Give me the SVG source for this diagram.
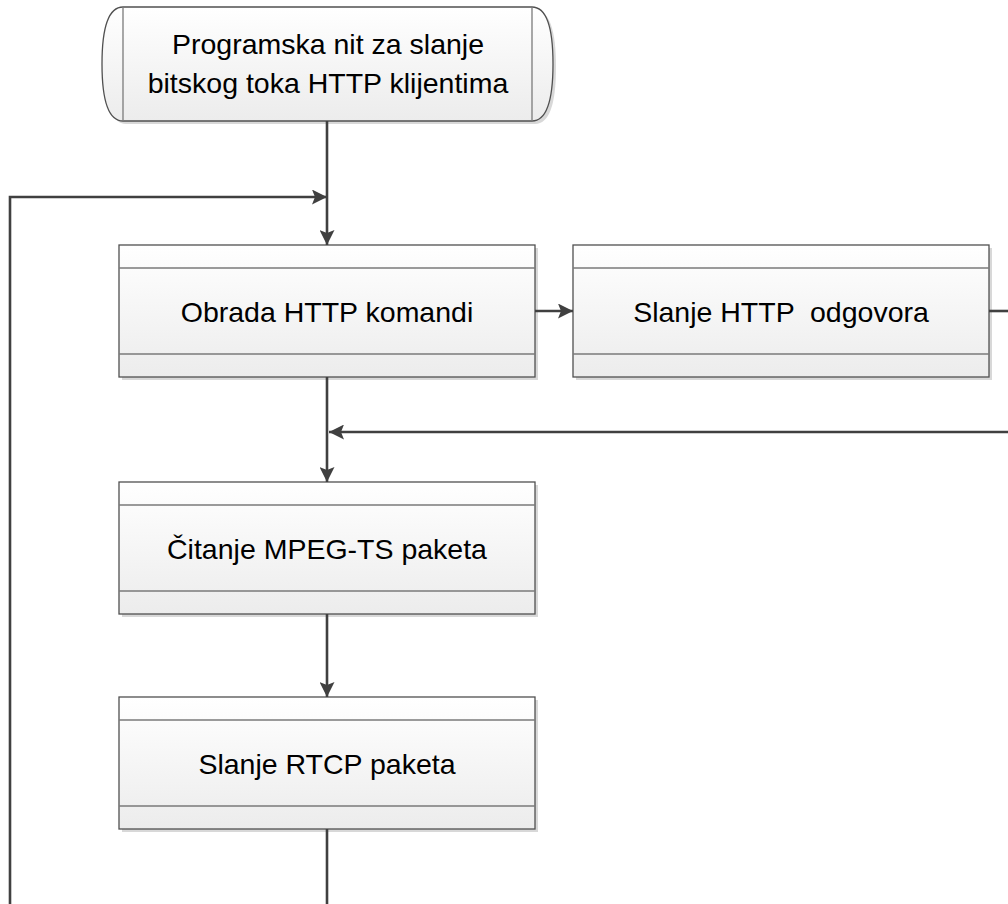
<svg xmlns="http://www.w3.org/2000/svg" width="1008" height="904" viewBox="0 0 1008 904">
<defs>
<linearGradient id="g" x1="0" y1="0" x2="0" y2="1">
<stop offset="0" stop-color="#ffffff"/>
<stop offset="1" stop-color="#ececec"/>
</linearGradient>
<marker id="ah" markerWidth="15" markerHeight="15" refX="15" refY="7.5" orient="auto" markerUnits="userSpaceOnUse">
<path d="M0,0 L15,7.5 L0,15 L3,7.5 Z" fill="#404040"/>
</marker>
</defs>
<style>
.box{fill:url(#g);stroke:#505050;stroke-width:1.3}
.sh{fill:#d8d8d8}
.ln{stroke:#7a7a7a;stroke-width:1.3;fill:none}
.t{font-family:"Liberation Sans",Arial,sans-serif;font-size:28.5px;fill:#000;text-anchor:middle;white-space:pre}
.c{stroke:#404040;stroke-width:2.6;fill:none}
</style>
<g id="start">
<path class="sh" d="M126,10 L535,10 Q556,10 556,67 Q556,124 535,124 L126,124 Q105,124 105,67 Q105,10 126,10 Z"/>
<path class="box" d="M123,7 L532,7 Q553,7 553,64 Q553,121 532,121 L123,121 Q102,121 102,64 Q102,7 123,7 Z"/>
<line class="ln" x1="123" y1="7" x2="123" y2="121"/>
<line class="ln" x1="532" y1="7" x2="532" y2="121"/>
<text class="t" x="328" y="54">Programska nit za slanje</text>
<text class="t" x="328" y="93">bitskog toka HTTP klijentima</text>
</g>
<g id="obrada">
<rect class="sh" x="122" y="248" width="416" height="132"/>
<rect class="box" x="119" y="245" width="416" height="132"/>
<line class="ln" x1="119" y1="268" x2="535" y2="268"/>
<line class="ln" x1="119" y1="354" x2="535" y2="354"/>
<text class="t" x="327" y="322">Obrada HTTP komandi</text>
</g>
<g id="odgovor">
<rect class="sh" x="576" y="248" width="416" height="132"/>
<rect class="box" x="573" y="245" width="416" height="132"/>
<line class="ln" x1="573" y1="268" x2="989" y2="268"/>
<line class="ln" x1="573" y1="354" x2="989" y2="354"/>
<text class="t" x="781" y="322" xml:space="preserve">Slanje HTTP  odgovora</text>
</g>
<g id="citanje">
<rect class="sh" x="122" y="485" width="416" height="132"/>
<rect class="box" x="119" y="482" width="416" height="132"/>
<line class="ln" x1="119" y1="505" x2="535" y2="505"/>
<line class="ln" x1="119" y1="591" x2="535" y2="591"/>
<text class="t" x="327" y="559">Čitanje MPEG-TS paketa</text>
</g>
<g id="rtcp">
<rect class="sh" x="122" y="700" width="416" height="132"/>
<rect class="box" x="119" y="697" width="416" height="132"/>
<line class="ln" x1="119" y1="720" x2="535" y2="720"/>
<line class="ln" x1="119" y1="806" x2="535" y2="806"/>
<text class="t" x="327" y="774">Slanje RTCP paketa</text>
</g>
<g id="connectors">
<path class="c" d="M327,121 L327,245" marker-end="url(#ah)"/>
<path class="c" d="M10,904 L10,197 L327,197" marker-end="url(#ah)"/>
<path class="c" d="M535,311 L573,311" marker-end="url(#ah)"/>
<path class="c" d="M989,311 L1010,311"/>
<path class="c" d="M1010,432 L329,432" marker-end="url(#ah)"/>
<path class="c" d="M327,377 L327,482" marker-end="url(#ah)"/>
<path class="c" d="M327,614 L327,697" marker-end="url(#ah)"/>
<path class="c" d="M327,829 L327,906"/>
</g>
</svg>
